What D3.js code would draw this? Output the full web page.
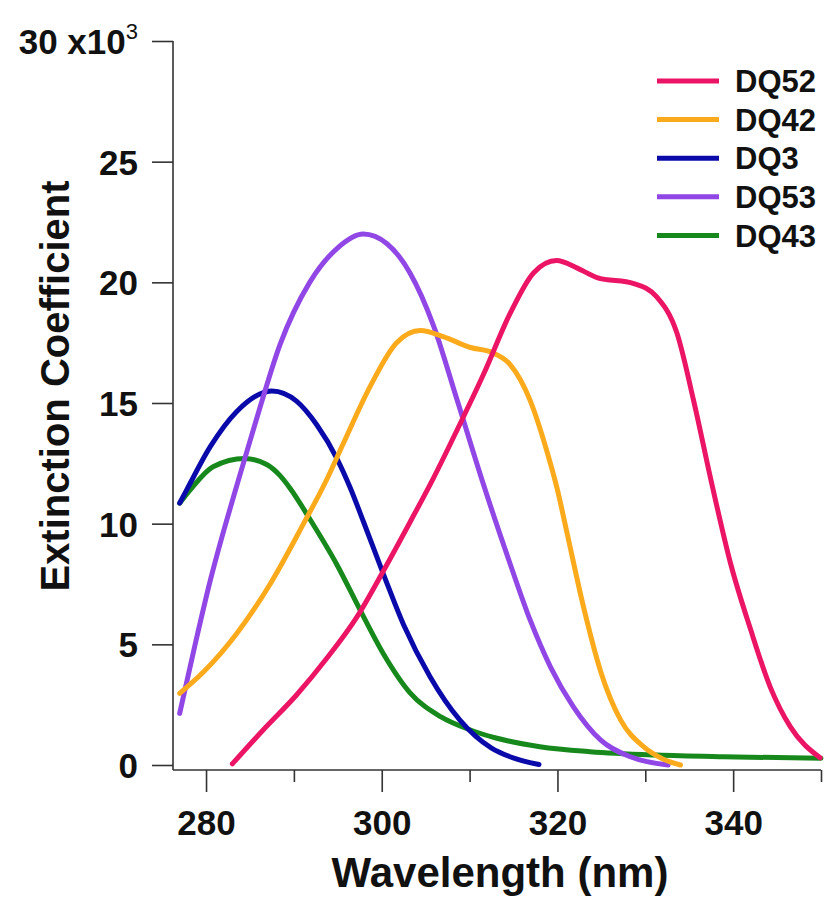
<!DOCTYPE html>
<html>
<head>
<meta charset="utf-8">
<script src="https://cdn.jsdelivr.net/npm/d3@7"></script>
<style>
    body { margin: 0; background: #fff; }
    svg text { font-family: "Liberation Sans", Arial, sans-serif; font-weight: bold; fill: #111; }
</style>
</head>
<body>
<svg id="chart"></svg>
<script>
// wavelength (nm) / extinction coefficient (x10^3)
const dq52X = [283, 286.5, 290.3, 293.7, 297.2, 300.2, 303.2, 305.9, 308.6, 311.6, 314.6, 317.3, 319.9, 322.2, 324.5, 328.7, 331.3, 333.6, 335.5, 337.6, 339.7, 342.0, 344.2, 346.5, 349.9];
const dq52Y = [0.05, 1.45, 2.9, 4.4, 6.15, 8.05, 10.05, 11.9, 13.9, 16.2, 18.7, 20.4, 20.9, 20.6, 20.2, 19.95, 19.4, 17.9, 15.1, 11.6, 8.36, 5.6, 3.25, 1.59, 0.3];

const dq42X = [277, 279.7, 283.5, 287.3, 291.1, 293.7, 295.6, 298.7, 301.7, 304.4, 307.0, 310.1, 312.5, 314.6, 316.9, 318.8, 320.0, 321.1, 323.0, 324.9, 327.2, 329.8, 332.0, 334.0];
const dq42Y = [2.97, 3.85, 5.45, 7.5, 10.0, 11.8, 13.3, 15.7, 17.5, 18.0, 17.75, 17.3, 17.1, 16.6, 15.1, 13.0, 11.4, 9.6, 6.5, 3.9, 1.86, 0.76, 0.25, 0.0];

const dq3X = [277, 277.8, 280.5, 283.5, 287.5, 290.3, 292.6, 294.9, 296.4, 297.9, 300.2, 302.5, 305.5, 308.9, 312.5, 314.6, 317.9];
const dq3Y = [10.85, 11.4, 13.2, 14.65, 15.5, 15.08, 14.1, 12.7, 11.5, 10.1, 7.9, 5.8, 3.66, 1.86, 0.7, 0.34, 0.02];

const dq53X = [277, 278.7, 280.5, 282.2, 283.6, 285.8, 288.4, 291.8, 294.9, 297.9, 300.6, 303.2, 305.9, 308.6, 311.6, 314.6, 316.9, 319.2, 321.8, 324.9, 328.3, 332.6];
const dq53Y = [2.14, 4.9, 7.67, 9.95, 11.7, 14.4, 17.4, 20.0, 21.4, 22.0, 21.6, 20.4, 18.2, 15.1, 11.6, 8.35, 6.0, 4.07, 2.42, 1.04, 0.34, 0.0];

const dq43X = [277, 278.2, 280.8, 284.4, 286.9, 288.4, 289.6, 291.8, 294.9, 297.5, 300.2, 303.2, 306.7, 310.1, 313, 318, 323.7, 331.3, 338.9, 350];
const dq43Y = [10.85, 11.4, 12.36, 12.7, 12.45, 12.0, 11.45, 10.2, 8.3, 6.45, 4.6, 3.0, 2.0, 1.45, 1.12, 0.76, 0.55, 0.41, 0.34, 0.28];

const seriesNames = ["DQ52", "DQ42", "DQ3", "DQ53", "DQ43"];
const seriesColors = ["#ec1464", "#fbaa1c", "#0a0aaa", "#9146e6", "#17891c"];

const xMajorTicks = [280, 300, 320, 340];
const xMinorTicks = [290, 310, 330, 350];
const yTicks = [0, 5, 10, 15, 20, 25, 30];

const width = 828;
const height = 901;

const svg = d3.select("#chart")
    .attr("width", width)
    .attr("height", height);

const x = d3.scaleLinear().domain([276.24, 350]).range([173, 821]);
const y = d3.scaleLinear().domain([0, 30]).range([765, 41]);

const axisY0 = 770;

// x axis
svg.append("g")
    .attr("transform", `translate(0,${axisY0})`)
    .call(d3.axisBottom(x).tickValues(xMinorTicks).tickSize(12).tickSizeOuter(0).tickFormat(""))
    .call(g => g.select(".domain").remove());

const xAxis = svg.append("g")
    .attr("transform", `translate(0,${axisY0})`)
    .call(d3.axisBottom(x).tickValues(xMajorTicks).tickSize(22).tickSizeOuter(0).tickFormat(d3.format("d")));
xAxis.select(".domain").remove();
xAxis.selectAll("text")
    .attr("y", 65)
    .attr("dy", 0)
    .style("font-size", "35px");

// y axis
const yAxis = svg.append("g")
    .attr("transform", "translate(173,0)")
    .call(d3.axisLeft(y).tickValues(yTicks).tickSize(21).tickSizeOuter(0).tickFormat(d => d === 30 ? "" : d));
yAxis.select(".domain").remove();
yAxis.selectAll("text")
    .attr("x", -35)
    .attr("dy", "0.36em")
    .style("font-size", "35px");

// top label with exponent
const topLabel = yAxis.selectAll(".tick").filter(d => d === 30).select("text");
topLabel.append("tspan").text("30 x10");
topLabel.append("tspan").attr("dy", -15).style("font-size", "22px").style("font-weight", "normal").text("3");

svg.selectAll(".tick line").attr("stroke", "#333").attr("stroke-width", 1.6);

svg.append("line")
    .attr("x1", 173).attr("x2", 173)
    .attr("y1", y(30)).attr("y2", axisY0)
    .attr("stroke", "#333").attr("stroke-width", 1.6);
svg.append("line")
    .attr("x1", 173).attr("x2", 821)
    .attr("y1", axisY0).attr("y2", axisY0)
    .attr("stroke", "#333").attr("stroke-width", 1.6);

// axis titles
svg.append("text")
    .attr("x", 500)
    .attr("y", 887)
    .attr("text-anchor", "middle")
    .style("font-size", "42px")
    .text("Wavelength (nm)");

svg.append("text")
    .attr("transform", "translate(69,386) rotate(-90)")
    .attr("text-anchor", "middle")
    .style("font-size", "40px")
    .text("Extinction Coefficient");

// curves
const allX = [dq52X, dq42X, dq3X, dq53X, dq43X];
const allY = [dq52Y, dq42Y, dq3Y, dq53Y, dq43Y];

const series = seriesNames.map((name, i) => ({
    name: name,
    color: seriesColors[i],
    points: allX[i].map((wl, j) => [wl, allY[i][j]])
}));

const line = d3.line()
    .x(d => x(d[0]))
    .y(d => y(d[1]))
    .curve(d3.curveMonotoneX);

// drawing order: last drawn on top
const drawOrder = ["DQ43", "DQ3", "DQ53", "DQ42", "DQ52"];
svg.append("g")
    .selectAll("path")
    .data(drawOrder.map(n => series.find(s => s.name === n)))
    .enter().append("path")
    .attr("d", d => line(d.points))
    .attr("fill", "none")
    .attr("stroke", d => d.color)
    .attr("stroke-width", 5)
    .attr("stroke-linecap", "round")
    .attr("stroke-linejoin", "round");

// legend
const legend = svg.append("g")
    .selectAll("g")
    .data(series)
    .enter().append("g")
    .attr("transform", (d, i) => `translate(657,${81 + i * 38.6})`);

legend.append("line")
    .attr("x1", 0).attr("x2", 62)
    .attr("stroke", d => d.color)
    .attr("stroke-width", 5);

legend.append("text")
    .attr("x", 78)
    .attr("dy", "0.36em")
    .style("font-size", "31px")
    .text(d => d.name);
</script>
</body>
</html>
